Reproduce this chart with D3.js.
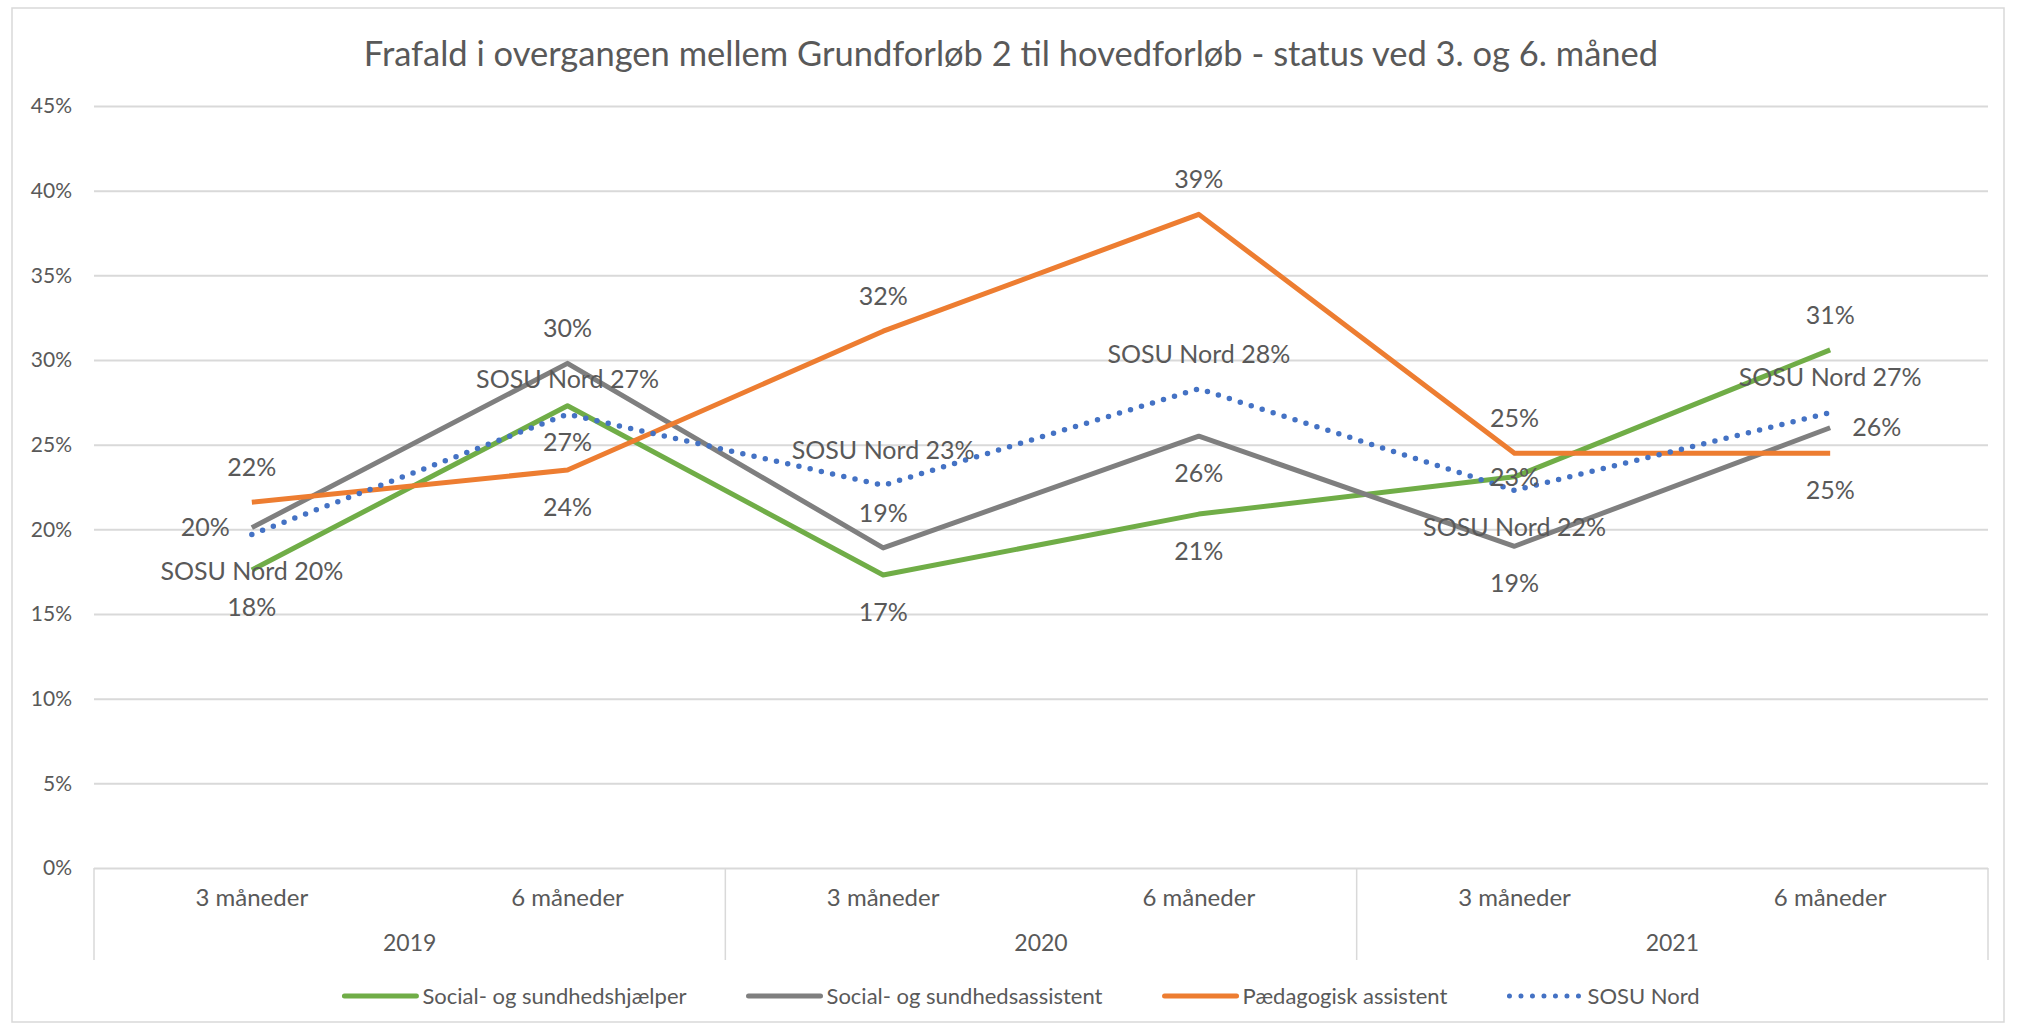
<!DOCTYPE html>
<html>
<head>
<meta charset="utf-8">
<script src="https://cdn.jsdelivr.net/npm/d3@7"></script>
<style>
  body { margin: 0; background: #fff; }
  text { font-family: Lato, "Open Sans", sans-serif; fill: #595959; }
</style>
</head>
<body>
<div id="chart"></div>
<script>
var svgWidth = 2018;
var svgHeight = 1029;
var margin = {top: 106, right: 30, bottom: 161, left: 94};
var width = 1988 - margin.left;
var height = 868 - margin.top;

// data
var months = ["3 måneder", "6 måneder", "3 måneder", "6 måneder", "3 måneder", "6 måneder"];
var years = ["2019", "2020", "2021"];
var yTicks = [0, 5, 10, 15, 20, 25, 30, 35, 40, 45];
var seriesNames = ["Social- og sundhedshjælper", "Social- og sundhedsassistent", "Pædagogisk assistent", "SOSU Nord"];
var hjaelperValues = [17.6, 27.3, 17.3, 20.9, 23.1, 30.6];
var assistentValues = [20.1, 29.8, 18.9, 25.5, 19.0, 26.0];
var paedValues = [21.6, 23.5, 31.7, 38.6, 24.5, 24.5];
var sosuValues = [19.7, 26.8, 22.6, 28.3, 22.3, 26.9];

// where each data label sits relative to its point
var hjaelperPos = ["below", "below", "below", "below", "center", "above"];
var assistentPos = ["left", "above", "above", "below", "below", "right"];
var paedPos = ["above", "below", "above", "above", "above", "below"];
var sosuPos = ["below", "above", "above", "above", "below", "above"];

var series = [
  {name: seriesNames[0], values: hjaelperValues, pos: hjaelperPos, color: "#70AD47", dotted: false, prefix: ""},
  {name: seriesNames[1], values: assistentValues, pos: assistentPos, color: "#7F7F7F", dotted: false, prefix: ""},
  {name: seriesNames[2], values: paedValues, pos: paedPos, color: "#ED7D31", dotted: false, prefix: ""},
  {name: seriesNames[3], values: sosuValues, pos: sosuPos, color: "#4472C4", dotted: true, prefix: "SOSU Nord "}
];

var svg = d3.select("#chart")
  .append("svg")
  .attr("width", svgWidth)
  .attr("height", svgHeight);

svg.append("rect")
  .attr("x", 12).attr("y", 8)
  .attr("width", 1992).attr("height", 1014)
  .attr("fill", "#fff")
  .attr("stroke", "#D9D9D9")
  .attr("stroke-width", 1.5);

svg.append("text")
  .attr("x", 1011)
  .attr("y", 66)
  .attr("text-anchor", "middle")
  .style("font-size", "34.5px")
  .text("Frafald i overgangen mellem Grundforløb 2 til hovedforløb - status ved 3. og 6. måned");

var chartMain = svg.append("g")
  .attr("transform", `translate(${margin.left}, ${margin.top})`);

var idx = d3.range(months.length);
var xBand = d3.scaleBand().domain(idx).range([0, width]);
var xMid = i => xBand(i) + xBand.bandwidth() / 2;
var yLinearScale = d3.scaleLinear().domain([0, 45]).range([height, 0]);

// gridlines + y labels
var leftAxis = d3.axisLeft(yLinearScale)
  .tickValues(yTicks)
  .tickSize(-width)
  .tickPadding(22)
  .tickFormat(d => d + "%");

var yAxis = chartMain.append("g").call(leftAxis);
yAxis.select(".domain").remove();
yAxis.selectAll(".tick line").attr("stroke", "#D9D9D9").attr("stroke-width", 2);
yAxis.selectAll(".tick text")
  .style("font-size", "21px")
  .attr("font-family", null)
  .attr("fill", "#595959");

// category axis: two levels
var xAxisG = chartMain.append("g").attr("transform", `translate(0, ${height})`);
var yearWidth = width / years.length;
xAxisG.selectAll("line.sep")
  .data(d3.range(years.length + 1))
  .enter()
  .append("line")
  .attr("x1", d => d * yearWidth)
  .attr("x2", d => d * yearWidth)
  .attr("y1", 0)
  .attr("y2", 92)
  .attr("stroke", "#D9D9D9")
  .attr("stroke-width", 1.5);

xAxisG.selectAll("text.month")
  .data(idx)
  .enter()
  .append("text")
  .attr("x", d => xMid(d))
  .attr("y", 38)
  .attr("text-anchor", "middle")
  .style("font-size", "24px")
  .text(d => months[d]);

xAxisG.selectAll("text.year")
  .data(years)
  .enter()
  .append("text")
  .attr("x", (d, i) => (i + 0.5) * yearWidth)
  .attr("y", 83)
  .attr("text-anchor", "middle")
  .style("font-size", "23px")
  .text(d => d);

// lines
var line = d3.line()
  .x((d, i) => xMid(i))
  .y(d => yLinearScale(d));

series.forEach(function(s) {
  chartMain.append("path")
    .datum(s.values)
    .attr("d", line)
    .attr("fill", "none")
    .attr("stroke", s.color)
    .attr("stroke-width", s.dotted ? 5.5 : 5)
    .attr("stroke-linejoin", "round")
    .attr("stroke-linecap", s.dotted ? "round" : "butt")
    .attr("stroke-dasharray", s.dotted ? "0 11.5" : null);
});

// data labels
series.forEach(function(s) {
  chartMain.selectAll(null)
    .data(s.values)
    .enter()
    .append("text")
    .style("font-size", "25px")
    .attr("text-anchor", (d, i) => s.pos[i] == "left" ? "end" : s.pos[i] == "right" ? "start" : "middle")
    .attr("x", function(d, i) {
      var p = s.pos[i];
      if (p == "left") return xMid(i) - 22;
      if (p == "right") return xMid(i) + 22;
      return xMid(i);
    })
    .attr("y", function(d, i) {
      var p = s.pos[i];
      var y = yLinearScale(d);
      if (p == "above") y -= 35;
      if (p == "below") y += 37;
      return y;
    })
    .attr("dy", "0.35em")
    .text(d => s.prefix + Math.round(d) + "%");
});

// legend
var legend = svg.append("g").attr("transform", "translate(0, 996)");
var items = legend.selectAll("g")
  .data(series)
  .enter()
  .append("g");

items.append("line")
  .attr("x1", 0).attr("x2", 72)
  .attr("y1", 0).attr("y2", 0)
  .attr("stroke", d => d.color)
  .attr("stroke-width", 5)
  .attr("stroke-linecap", "round")
  .attr("stroke-dasharray", d => d.dotted ? "0 11.5" : null);

items.append("text")
  .attr("x", 78)
  .attr("dy", "0.35em")
  .style("font-size", "22px")
  .text(d => d.name);

var widths = [];
items.each(function() { widths.push(this.getBBox().width); });
var gap = 62;
var total = d3.sum(widths) + gap * (widths.length - 1);
var cx = 1022 - total / 2;
items.attr("transform", function(d, i) {
  var x = cx;
  cx += widths[i] + gap;
  return `translate(${x}, 0)`;
});
</script>
</body>
</html>
